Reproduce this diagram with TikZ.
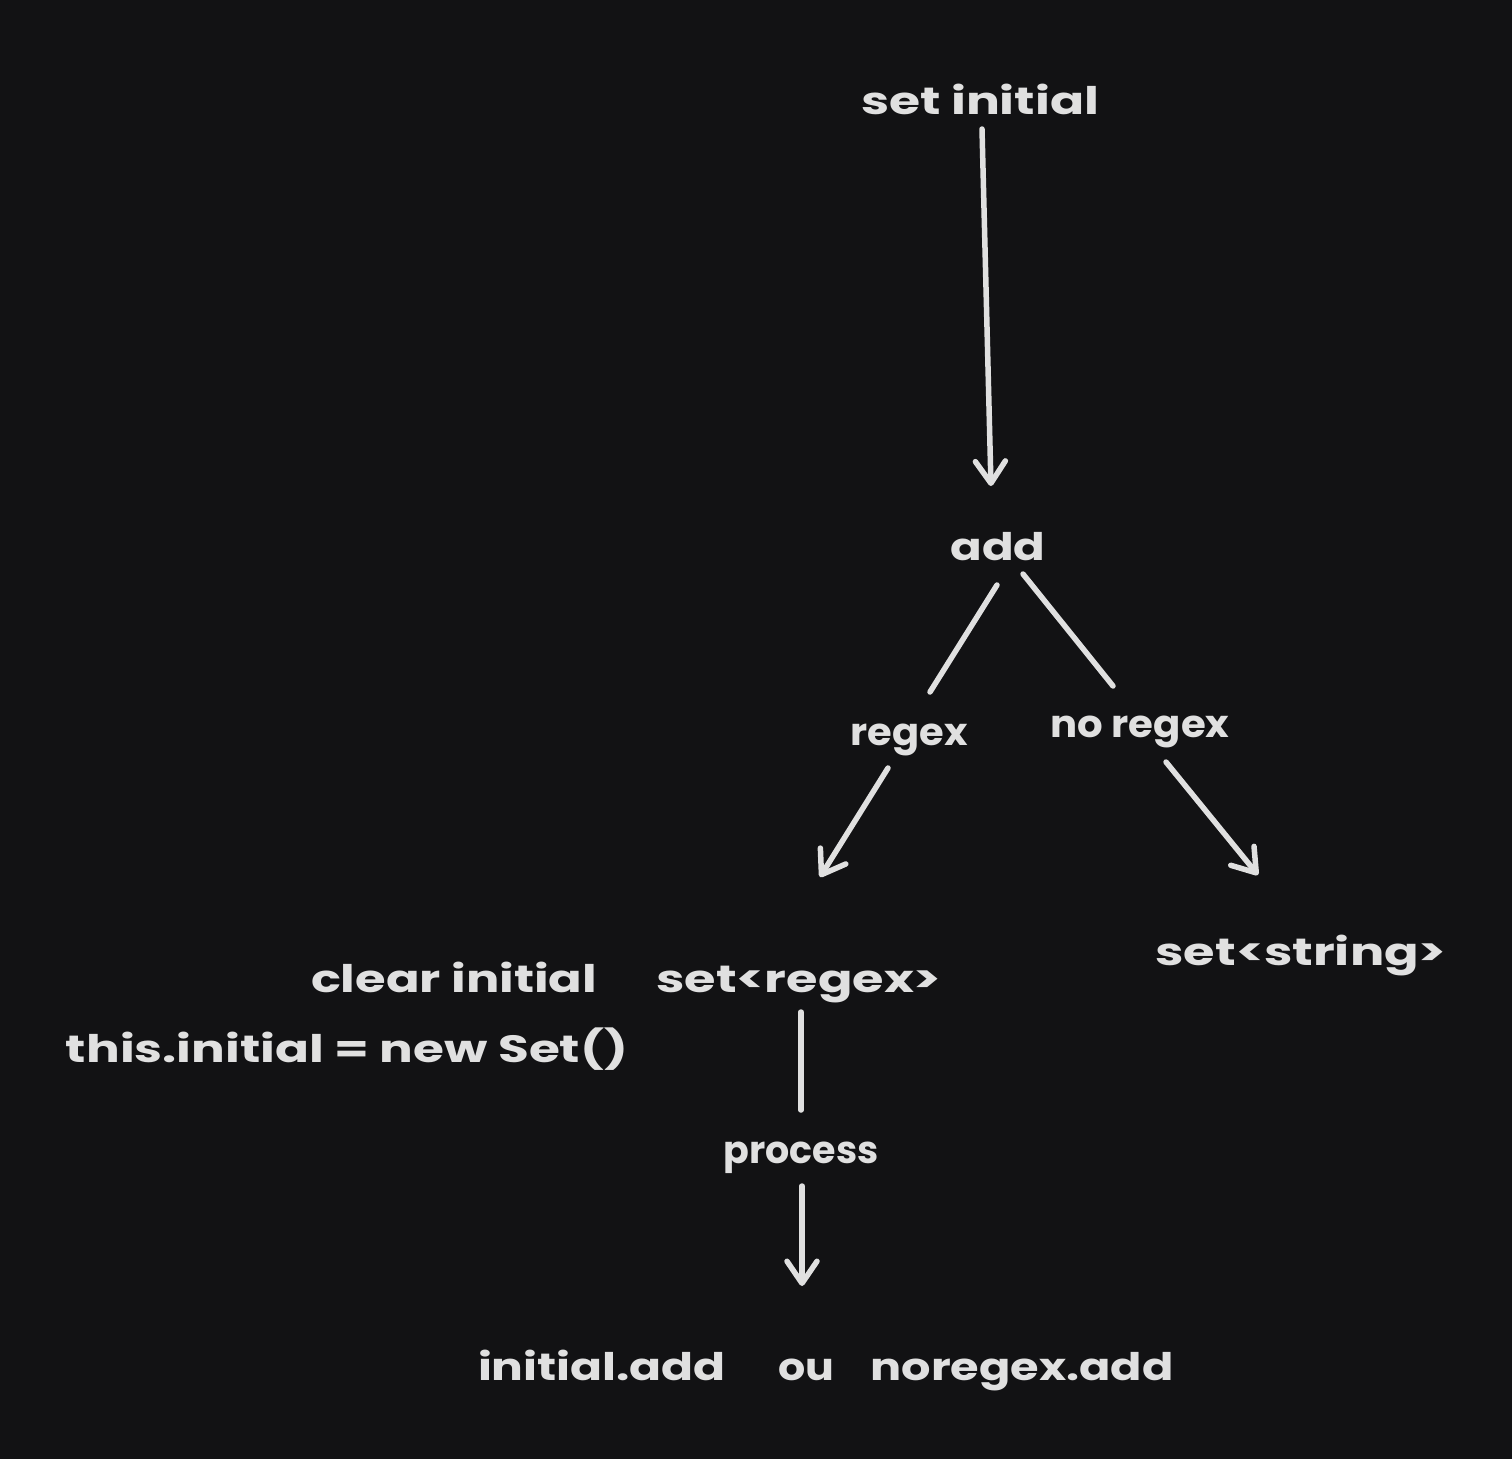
\documentclass[tikz,border=0pt]{standalone}
\usepackage{fontspec}
\usepackage{graphicx}
\setmainfont{Poppins}
\usetikzlibrary{arrows.meta}
\definecolor{bg}{RGB}{18,18,20}
\definecolor{ink}{RGB}{224,224,224}
\newcommand{\wfit}[2]{\resizebox{#1pt}{\height}{#2}}
\begin{document}
\begin{tikzpicture}[x=1pt,y=-1pt,
  txt/.style={text=ink,font=\fontsize{38}{46}\selectfont\bfseries,inner sep=0pt,anchor=base},
  lbl/.style={txt},
  conn/.style={draw=ink,line width=5.5pt,line cap=round},
  head/.style={conn,-{Straight Barb[length=22pt,width=30pt,line cap=round,line join=round]}}]
\fill[bg] (0,0) rectangle (1512,1459);
\useasboundingbox (0,0) rectangle (1512,1459);
% texts (positioned at baseline)
\node[txt] (setinit) at (980,114) {\wfit{238}{set initial}};
\node[txt] (add) at (998,560) {\wfit{95}{add}};
\node[lbl] (regex) at (909,745) {\wfit{117}{regex}};
\node[lbl] (noregex) at (1140,737) {\wfit{179}{no regex}};
\node[txt] (setstring) at (1301,965) {\wfit{291}{set<string>}};
\node[txt] (setregex) at (799,992) {\wfit{285}{set<regex>}};
\node[txt] (clear) at (454,992) {\wfit{286}{clear initial}};
\node[txt] (thisinit) at (347,1062) {\wfit{562}{this.initial = new Set()}};
\node[lbl] (process) at (801,1163) {\wfit{155}{process}};
\node[txt] (initadd) at (602,1380) {\wfit{248}{initial.add}};
\node[txt] (ou) at (806,1380) {\wfit{56}{ou}};
\node[txt] (noregexadd) at (1022,1380) {\wfit{303}{noregex.add}};
% connector end points
\coordinate (c1a) at (982,129);
\coordinate (c1b) at (991,486);
\coordinate (c2a) at (997,585);
\coordinate (c2b) at (930,692);
\coordinate (c2c) at (888,768);
\coordinate (c2d) at (820,877);
\coordinate (c3a) at (1023,574);
\coordinate (c3b) at (1113,686);
\coordinate (c3c) at (1166,762);
\coordinate (c3d) at (1258,875);
\coordinate (c4a) at (801,1012);
\coordinate (c4b) at (801,1110);
\coordinate (c4c) at (802,1186);
\coordinate (c4d) at (802,1286);
% connectors
\draw[head] (c1a) -- (c1b);
\draw[conn] (c2a) -- (c2b);
\draw[head] (c2c) -- (c2d);
\draw[conn] (c3a) -- (c3b);
\draw[head] (c3c) -- (c3d);
\draw[conn] (c4a) -- (c4b);
\draw[head] (c4c) -- (c4d);
\end{tikzpicture}
\end{document}
